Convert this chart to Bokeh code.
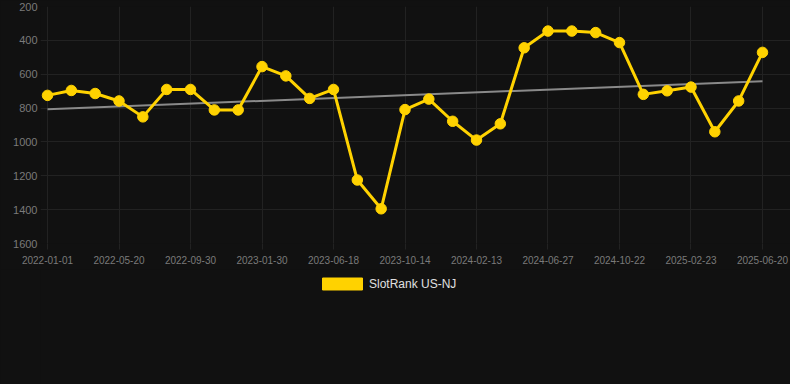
import numpy as np
from bokeh.plotting import figure
from bokeh.layouts import column
from bokeh.models import (ColumnDataSource, Range1d, FixedTicker, Legend, LegendItem,
                          GlobalInlineStyleSheet)
from bokeh.embed import file_html
from bokeh.resources import INLINE

# ---- data ----
dates = ["2022-01-01", "2022-02-12", "2022-03-26", "2022-05-20", "2022-06-20", "2022-08-01",
         "2022-09-30", "2022-10-24", "2022-12-05", "2023-01-30", "2023-02-28", "2023-04-10",
         "2023-06-18", "2023-07-31", "2023-09-10", "2023-10-14", "2023-11-20", "2024-01-01",
         "2024-02-13", "2024-03-25", "2024-05-06", "2024-06-27", "2024-07-29", "2024-09-10",
         "2024-10-22", "2024-12-03", "2025-01-14", "2025-02-23", "2025-04-06", "2025-05-18",
         "2025-06-20"]
rank = [725, 696, 714, 758, 852, 690, 690, 811, 811, 555, 610, 743, 690, 1225, 1395, 809,
        747, 878, 989, 893, 444, 345, 345, 354, 413, 719, 698, 676, 940, 758, 471]
tick_idx = [0, 3, 6, 9, 12, 15, 18, 21, 24, 27, 30]
tick_labels = ["2022-01-01", "2022-05-20", "2022-09-30", "2023-01-30", "2023-06-18",
               "2023-10-14", "2024-02-13", "2024-06-27", "2024-10-22", "2025-02-23",
               "2025-06-20"]
y_ticks = [200, 400, 600, 800, 1000, 1200, 1400, 1600]
series_name = "SlotRank US-NJ"

BG = "#111111"
YELLOW = "#FFD200"
GRID = "#222222"
LABEL = "#7a7a7a"

idx = list(range(len(rank)))
src = ColumnDataSource(dict(x=idx, y=rank, d=dates))

coef = np.polyfit(idx, rank, 1)
trend_x = [idx[0], idx[-1]]
trend_y = [float(np.polyval(coef, v)) for v in trend_x]

p = figure(frame_width=750, frame_height=237, output_backend="svg", toolbar_location=None,
           x_range=Range1d(-0.294, 31.175), y_range=Range1d(1600, 200),
           background_fill_color=BG, border_fill_color=BG, outline_line_color=None,
           min_border_left=40, min_border_right=0, min_border_top=6, min_border_bottom=26)
p.stylesheets.append(GlobalInlineStyleSheet(css="html, body { background: #111111; }"))

# grid
p.xgrid.ticker = FixedTicker(ticks=tick_idx)
p.ygrid.ticker = FixedTicker(ticks=y_ticks)
p.xgrid.grid_line_color = GRID
p.ygrid.grid_line_color = GRID
p.xgrid.grid_line_width = 1
p.ygrid.grid_line_width = 1

# axes
xa = p.xaxis[0]
xa.ticker = FixedTicker(ticks=tick_idx)
xa.major_label_overrides = {i: l for i, l in zip(tick_idx, tick_labels)}
xa.axis_line_color = None
xa.major_tick_line_color = GRID
xa.major_tick_out = 6
xa.major_tick_in = 0
xa.minor_tick_line_color = None
xa.major_label_standoff = 6
xa.major_label_text_color = LABEL
xa.major_label_text_font = "Liberation Sans"
xa.major_label_text_font_size = "10px"

ya = p.yaxis[0]
ya.ticker = FixedTicker(ticks=y_ticks)
ya.axis_line_color = None
ya.major_tick_line_color = None
ya.major_tick_out = 0
ya.major_tick_in = 0
ya.minor_tick_line_color = None
ya.major_label_standoff = 3
ya.major_label_text_color = LABEL
ya.major_label_text_font = "Liberation Sans"
ya.major_label_text_font_size = "11px"

# trend line
p.line(trend_x, trend_y, line_color="#8a8a8a", line_width=2)

# series
p.line("x", "y", source=src, line_color=YELLOW, line_width=3)
p.scatter("x", "y", source=src, size=10.5, fill_color=YELLOW, line_color=YELLOW)

# legend strip (separate figure below the chart); proxy glyph lies outside its view
lg = figure(width=790, height=115, output_backend="svg", toolbar_location=None,
            x_range=Range1d(0, 1), y_range=Range1d(0, 1),
            x_axis_location=None, y_axis_location=None,
            background_fill_color=BG, border_fill_color=BG, outline_line_color=None,
            min_border=0)
lg.xgrid.visible = False
lg.ygrid.visible = False
proxy = lg.quad(left=[5], right=[6], top=[6], bottom=[5], fill_color=YELLOW,
                line_color=YELLOW)
legend = Legend(items=[LegendItem(label=series_name, renderers=[proxy])],
                location=(277, 93), orientation="horizontal",
                background_fill_alpha=0, border_line_color=None,
                glyph_width=50, glyph_height=15, label_standoff=2,
                label_text_color="#e0e0e0", label_text_font="Liberation Sans",
                label_text_font_size="12px", margin=0, padding=5)
lg.add_layout(legend, "center")

layout = column(p, lg, spacing=0)
open("out.html", "w").write(file_html(layout, INLINE))
